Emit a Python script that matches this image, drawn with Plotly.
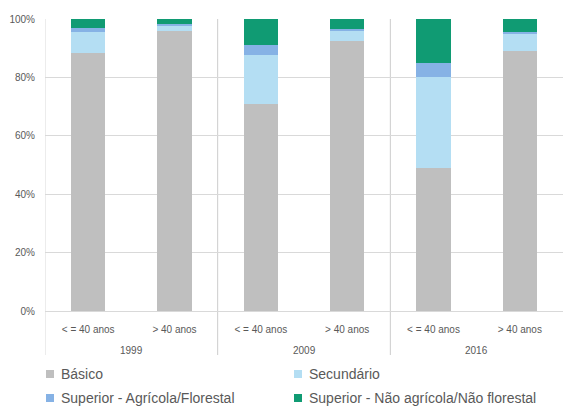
import plotly.graph_objects as go

# Two-level categories: survey year and age group
anos = ["1999", "1999", "2009", "2009", "2016", "2016"]
idades = ["< = 40 anos", "> 40 anos"] * 3

# Share of each education level (%)
basico = [88.5, 95.9, 71.0, 92.6, 49.1, 89.1]
secundario = [7.0, 1.9, 16.7, 3.4, 31.1, 5.8]
sup_agricola = [1.4, 0.4, 3.4, 0.6, 4.7, 0.6]
sup_nao_agricola = [3.1, 1.8, 8.9, 3.4, 15.1, 4.5]

nomes = ["Básico", "Secundário", "Superior - Agrícola/Florestal",
         "Superior - Não agrícola/Não florestal"]
cores = ["#BFBFBF", "#B4DEF3", "#86B2E5", "#109B73"]
valores = [basico, secundario, sup_agricola, sup_nao_agricola]

W, H = 563, 407
ML, MR, MT, MB = 45, 0, 19, 96
PW, PH = W - ML - MR, H - MT - MB
FONT = "Liberation Sans, Arial, sans-serif"
GRID = "#D9D9D9"
DIV = "#CCCCCC"
TXT = "#595959"


def px_x(p):
    return (p - ML) / PW


def px_y(p):
    return (H - MB - p) / PH


# unique key per bar so the age labels can repeat on the axis
chaves = [f"{a} | {i}" for a, i in zip(anos, idades)]

fig = go.Figure()
for nome, vals, cor in zip(nomes, valores, cores):
    fig.add_trace(go.Bar(x=chaves, y=vals, name=nome, showlegend=False,
                         marker=dict(color=cor, line=dict(width=0))))

# year labels centred under each pair of bars, with separators between years
grupos = list(dict.fromkeys(anos))
fundo_div = px_y(355)
for g, ano in enumerate(grupos):
    idx = [k for k, a in enumerate(anos) if a == ano]
    centro = (idx[0] + idx[-1]) / 2
    fig.add_annotation(x=centro, xref="x", y=px_y(350), yref="paper", text=ano,
                       showarrow=False, font=dict(size=10, color=TXT),
                       xanchor="center", yanchor="middle")
    limite = idx[0] - 0.5
    fig.add_shape(type="line", xref="x", yref="paper", x0=limite, x1=limite,
                  y0=fundo_div, y1=1,
                  line=dict(color=GRID if g == 0 else DIV, width=1), layer="below")

# legend: two columns, two rows
cols_px = [46, 294]
rows_px = [374, 398]
for k, (nome, cor) in enumerate(zip(nomes, cores)):
    cx = cols_px[k % 2]
    cy = rows_px[k // 2]
    fig.add_shape(type="rect", xref="paper", yref="paper",
                  x0=px_x(cx), x1=px_x(cx + 8), y0=px_y(cy + 4), y1=px_y(cy - 4),
                  fillcolor=cor, line=dict(width=0))
    fig.add_annotation(x=px_x(cx + 13), xref="paper", y=px_y(cy), yref="paper",
                       text=nome, showarrow=False, xanchor="left", yanchor="middle",
                       font=dict(size=14, color=TXT))

fig.update_layout(
    width=W, height=H,
    margin=dict(l=ML, r=MR, t=MT, b=MB, autoexpand=False),
    barmode="stack", bargap=0.6,
    plot_bgcolor="white", paper_bgcolor="white",
    font=dict(family=FONT, color=TXT, size=10),
    showlegend=False,
)
fig.update_yaxes(
    range=[0, 100], dtick=20, ticksuffix="%",
    showgrid=True, gridcolor=GRID, gridwidth=1,
    zeroline=False, tickfont=dict(size=10, color=TXT),
    ticks="", ticklabelstandoff=9,
)
fig.update_xaxes(
    type="category", tickvals=chaves, ticktext=idades,
    range=[-0.5, len(chaves) - 0.5],
    showline=True, linecolor=GRID, linewidth=1, showgrid=False,
    ticks="", tickfont=dict(size=10, color=TXT), ticklabelstandoff=9,
    tickangle=0,
)

fig.write_html("out.html")
